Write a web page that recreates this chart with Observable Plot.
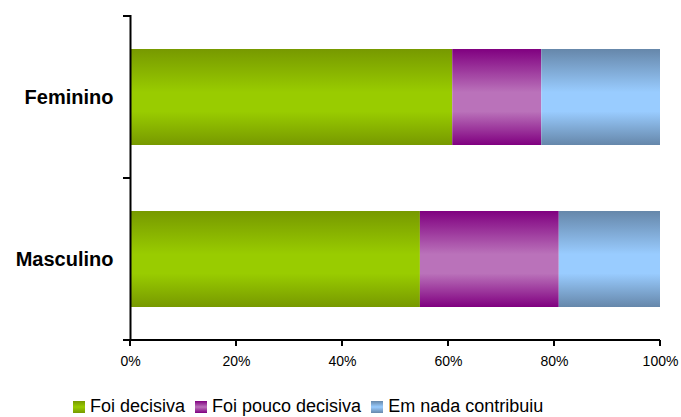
<!DOCTYPE html>
<html><head><meta charset="utf-8">
<script src="https://cdn.jsdelivr.net/npm/d3@7"></script>
<script src="https://cdn.jsdelivr.net/npm/@observablehq/plot@0.6"></script>
<style>
body{margin:0;background:#fff;font-family:"Liberation Sans",Arial,sans-serif;}
#chart svg{display:block;}
g[aria-label="y-axis tick label"] text{font-size:20px;font-weight:bold;}
#legend{height:32px;position:relative;font-size:18px;line-height:18px;color:#000;}
#legend .items{position:absolute;left:73px;top:12px;white-space:nowrap;}
#legend .sw{display:inline-block;width:12px;height:12px;margin-right:5px;vertical-align:-1px;}
#legend .lab{margin-right:10px;}
</style></head><body>
<div id="chart"></div>
<div id="legend"><div class="items"></div></div>
<script>
const categories = ["Feminino", "Masculino"];
const series = ["Foi decisiva", "Foi pouco decisiva", "Em nada contribuiu"];
const foiDecisiva = [0.608, 0.547];
const foiPoucoDecisiva = [0.168, 0.262];
const emNadaContribuiu = [0.224, 0.191];
const xTicks = [0, 0.2, 0.4, 0.6, 0.8, 1];
const seriesEdge = ["#779900", "#800080", "#6687AA"];
const seriesMid = ["#99CC00", "#BA72BA", "#99CCFF"];

const values = [foiDecisiva, foiPoucoDecisiva, emNadaContribuiu];
const rows = [];
categories.forEach((c, i) => {
  series.forEach((s, j) => rows.push({category: c, series: s, value: values[j][i]}));
});
const gradIds = series.map((s, j) => "grad" + j);

const chart = Plot.plot({
  width: 681,
  height: 385,
  marginLeft: 130,
  marginRight: 21,
  marginTop: 15,
  marginBottom: 45,
  style: {fontFamily: '"Liberation Sans", Arial, sans-serif', fontSize: "14px", color: "#000", background: "#fff"},
  x: {domain: [0, 1], ticks: xTicks, tickFormat: d3.format(".0%"), tickSize: 0, tickPadding: 16, label: null},
  y: {domain: categories, padding: 0, tickSize: 0, tickPadding: 17, label: null},
  color: {domain: series, range: gradIds.map(id => `url(#${id})`)},
  marks: [
    Plot.barX(rows, {x: "value", y: "category", fill: "series", insetTop: 33, insetBottom: 33}),
    Plot.ruleX([0], {stroke: "#000", strokeWidth: 2})
  ]
});
document.getElementById("chart").appendChild(chart);

const svg = d3.select(chart.tagName.toLowerCase() === "svg" ? chart : chart.querySelector("svg"));
const defs = svg.insert("defs", ":first-child");
gradIds.forEach((id, j) => {
  const g = defs.append("linearGradient").attr("id", id).attr("x1", 0).attr("y1", 0).attr("x2", 0).attr("y2", 1);
  [[0, seriesEdge[j]], [0.45, seriesMid[j]], [0.65, seriesMid[j]], [1, seriesEdge[j]]].forEach(([o, c]) =>
    g.append("stop").attr("offset", o).attr("stop-color", c));
});

const xs = chart.scale("x"), ys = chart.scale("y");
const x0 = xs.apply(0), x1 = xs.apply(1);
const yBottom = ys.apply(categories[categories.length - 1]) + ys.bandwidth;
const axes = svg.append("g").attr("stroke", "#000").attr("stroke-width", 2);
axes.append("line").attr("x1", x0 - 7).attr("x2", x1).attr("y1", yBottom).attr("y2", yBottom);
xTicks.forEach(t => axes.append("line").attr("x1", xs.apply(t)).attr("x2", xs.apply(t)).attr("y1", yBottom).attr("y2", yBottom + 6));
const bounds = categories.map(c => ys.apply(c)).concat([yBottom]);
bounds.forEach(b => axes.append("line").attr("x1", x0 - 7).attr("x2", x0).attr("y1", b).attr("y2", b));

const items = d3.select("#legend .items");
series.forEach((s, j) => {
  items.append("span").attr("class", "sw")
    .style("background", `linear-gradient(to bottom, ${seriesEdge[j]} 0%, ${seriesMid[j]} 50%, ${seriesEdge[j]} 100%)`);
  items.append("span").attr("class", "lab").text(s);
});
</script>
</body></html>
